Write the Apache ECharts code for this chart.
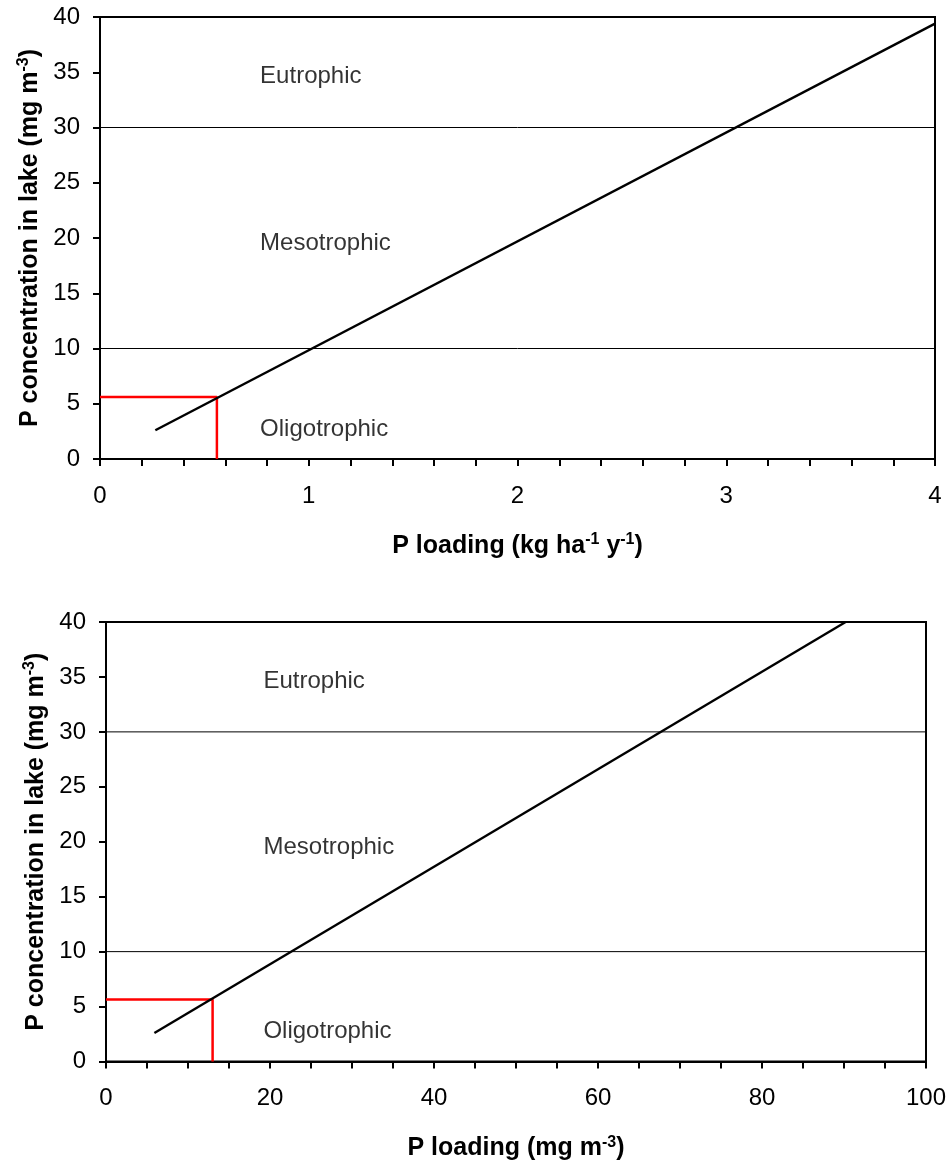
<!DOCTYPE html>
<html>
<head>
<meta charset="utf-8">
<script src="https://cdn.jsdelivr.net/npm/echarts@6/dist/echarts.min.js"></script>
<style>
  html, body { margin: 0; padding: 0; background: #fff; }
  #main { width: 952px; height: 1162px; }
</style>
</head>
<body>
<div id="main"></div>
<script>
// top chart: P loading in kg/ha/y
var topLoad = [0.265, 4.0];
var topConc = [2.6, 39.4];
var topRefX = 0.56, topRefY = 5.6;
var topXTicks = [0, 1, 2, 3, 4];
// bottom chart: P loading in mg/m3
var botLoad = [5.9, 90.2];
var botConc = [2.6, 40];
var botRefX = 13, botRefY = 5.65;
var botXTicks = [0, 20, 40, 60, 80, 100];
// trophic class boundaries and labels
var bounds = [10, 30];
var zoneNames = ['Eutrophic', 'Mesotrophic', 'Oligotrophic'];
var zoneConc = [34.6, 19.5, 2.7];
var topZoneX = 0.767, botZoneX = 19.2;

var FONT = "'Liberation Sans', Arial, sans-serif";
var myChart = echarts.init(document.getElementById('main'));

function pairs(xs, ys){
	var out = [];
	for (var i = 0; i < xs.length; i++) out.push([xs[i], ys[i]]);
	return out;
}
function labelFmt(ticks){
	return function(v){
		for (var i = 0; i < ticks.length; i++) {
			if (Math.abs(v - ticks[i]) < 1e-6) return String(ticks[i]);
		}
		return '';
	};
}
var richName = {
	b: { fontSize: 25, fontWeight: 'bold', fontFamily: FONT, color: '#000', lineHeight: 28 },
	sup: { fontSize: 16, fontWeight: 'bold', fontFamily: FONT, color: '#000', lineHeight: 14, verticalAlign: 'top' }
};
function xAxisCfg(idx, max, interval, ticks, name){
	return {
		gridIndex: idx, type: 'value', min: 0, max: max, interval: interval,
		name: name, nameLocation: 'middle', nameGap: 73,
		nameTextStyle: { rich: richName },
		axisLine: { show: true, onZero: false, lineStyle: { color: '#000', width: 2 } },
		axisTick: { show: true, length: 7, lineStyle: { color: '#000', width: 2 } },
		splitLine: { show: false },
		axisLabel: { formatter: labelFmt(ticks), fontSize: 24, fontFamily: FONT, color: '#000', margin: 25, showMinLabel: true, showMaxLabel: true }
	};
}
function yAxisCfg(idx){
	return {
		gridIndex: idx, type: 'value', min: 0, max: 40, interval: 5,
		name: '{b|P concentration in lake (mg m}{sup|-3}{b|)}',
		nameLocation: 'middle', nameRotate: 90, nameGap: 56,
		nameTextStyle: { rich: richName },
		axisLine: { show: true, onZero: false, lineStyle: { color: '#000', width: 2 } },
		axisTick: { show: true, length: 7, lineStyle: { color: '#000', width: 2 } },
		splitLine: { show: false },
		axisLabel: { fontSize: 24, fontFamily: FONT, color: '#000', margin: 20 }
	};
}
function lineSeries(idx, data, color, width){
	return {
		type: 'line', xAxisIndex: idx, yAxisIndex: idx, data: data,
		symbol: 'none', silent: true, animation: false,
		lineStyle: { color: color, width: width }
	};
}
function zoneSeries(idx, x){
	var d = [];
	for (var i = 0; i < zoneNames.length; i++) d.push({ name: zoneNames[i], value: [x, zoneConc[i]] });
	return {
		type: 'scatter', xAxisIndex: idx, yAxisIndex: idx, data: d,
		symbolSize: 0, silent: true, animation: false,
		label: { show: true, position: 'right', distance: 0, formatter: '{b}', fontSize: 24, fontFamily: FONT, color: '#000' }
	};
}

var series = [];
[[0, 4, topLoad, topConc, topRefX, topRefY, topZoneX], [1, 100, botLoad, botConc, botRefX, botRefY, botZoneX]].forEach(function(c){
	var idx = c[0];
	for (var i = 0; i < bounds.length; i++) {
		series.push(lineSeries(idx, [[0, bounds[i]], [c[1], bounds[i]]], '#000', 1));
	}
	series.push(lineSeries(idx, [[0, c[5]], [c[4], c[5]], [c[4], 0]], '#ff0000', 2.5));
	series.push(lineSeries(idx, pairs(c[2], c[3]), '#000', 2.4));
	series.push(zoneSeries(idx, c[6]));
});

var option = {
	backgroundColor: '#fff',
	animation: false,
	grid: [
		{ left: 100, top: 17, width: 835, height: 442, show: true, borderColor: '#000', borderWidth: 2, backgroundColor: 'transparent' },
		{ left: 106, top: 622, width: 820, height: 441, show: true, borderColor: '#000', borderWidth: 2, backgroundColor: 'transparent' }
	],
	xAxis: [
		xAxisCfg(0, 4, 0.2, topXTicks, '{b|P loading (kg ha}{sup|-1}{b| y}{sup|-1}{b|)}'),
		xAxisCfg(1, 100, 5, botXTicks, '{b|P loading (mg m}{sup|-3}{b|)}')
	],
	yAxis: [yAxisCfg(0), yAxisCfg(1)],
	series: series
};
myChart.setOption(option);
</script>
</body>
</html>
